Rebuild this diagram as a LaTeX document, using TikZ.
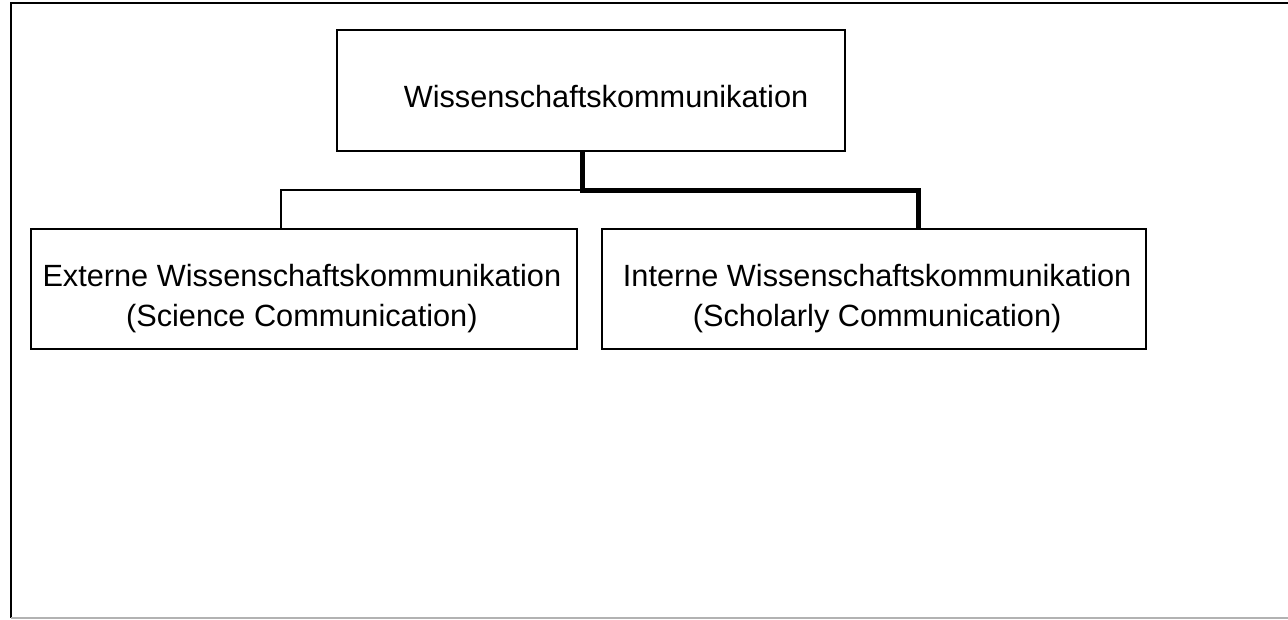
\documentclass[tikz,border=0pt]{standalone}
\usepackage{fontspec}
\setmainfont{Liberation Sans}
\usetikzlibrary{positioning,calc}

\begin{document}
\begin{tikzpicture}[
  x=1pt, y=-1pt,
  node distance=76pt,
  box/.style={rectangle, draw=black, line width=2.3pt, inner sep=0pt},
  boxtext/.style={font=\fontsize{30.7}{40}\selectfont, align=center, inner sep=0pt},
  link/.style={draw=black, line width=2.2pt},
  thicklink/.style={draw=black, line width=5pt}
]
  \useasboundingbox (0,0) rectangle (1288,619);

  % frame
  \draw[line width=2.3pt] (1288,3) -- (11,3) -- (11,618);
  \draw[line width=1.8pt, black!30] (11,618) -- (1288,618);

  \node (wk) [box, minimum width=508pt, minimum height=121pt] at (591,90.5) {};
  \node (wktext) [boxtext, xshift=15pt, yshift=-6pt] at (wk.center) {Wissenschaftskommunikation};

  \node (ext) [box, minimum width=546pt, minimum height=120pt, below=of wk.south west, xshift=-32pt] {};
  \node (exttext) [boxtext, xshift=-2pt, yshift=-9pt] at (ext.center) {Externe Wissenschaftskommunikation\\(Science Communication)};

  \node (int) [box, minimum width=544pt, minimum height=120pt, below=of wk.south east, xshift=28pt] {};
  \node (inttext) [boxtext, xshift=3pt, yshift=-9pt] at (int.center) {Interne Wissenschaftskommunikation\\(Scholarly Communication)};

  \coordinate (fork) at (582,190);
  \coordinate (extdrop) at (281,190);
  \coordinate (intdrop) at (918,190);

  \draw[link] (fork) -- (extdrop) -- (extdrop |- ext.north);
  \draw[thicklink] (wk.south -| fork) -- (fork) -- (intdrop) -- (intdrop |- int.north);
\end{tikzpicture}
\end{document}
